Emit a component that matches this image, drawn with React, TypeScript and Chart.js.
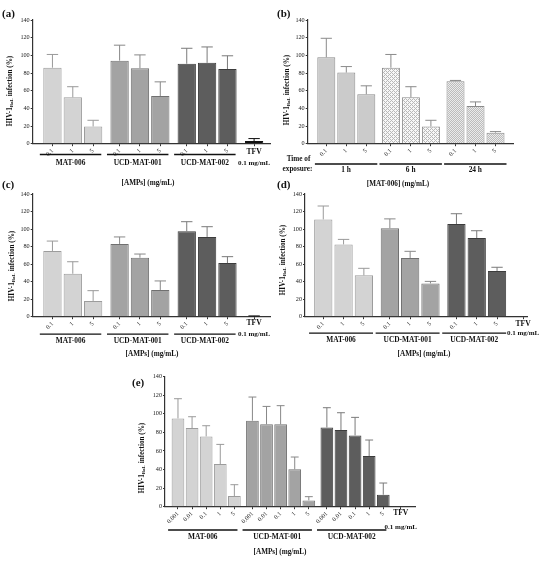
import React, { useEffect, useRef } from 'react';
import { Chart, registerables } from 'chart.js';

Chart.register(...registerables);

const SERIF = '"Liberation Serif", "DejaVu Serif", serif';
Chart.defaults.font.family = SERIF;

// categories / tick labels
const doses = ['0.1', '1', '5'];
const dosesE = ['0.001', '0.01', '0.1', '1', '5'];
const amps = ['MAT-006', 'UCD-MAT-001', 'UCD-MAT-002'];
const exposures = ['1 h', '6 h', '24 h'];

// (a) HIV-1 infection, AMPs
const aMean = [[86, 52.5, 19.5], [94, 85.5, 54], [90.5, 91.5, 84.5]];
const aSd = [[15, 12, 7], [17.5, 15, 16], [17.5, 18, 15]];
const aTfv = [3, 2.8];

// (b) MAT-006 by time of exposure
const bMean = [[97.8, 80.5, 56], [86, 52.5, 19.5], [70.8, 42.6, 12.5]];
const bSd = [[21.5, 6.8, 9.5], [15, 12, 7], [0.8, 4.7, 1.2]];

// (c)
const cMean = [[75, 49, 18], [83, 67.3, 30.5], [97.4, 91, 61.2]];
const cSd = [[11.3, 13.7, 11.7], [8, 4.2, 10.3], [11, 11.7, 7.3]];
const cTfv = [0.5, 0.4];

// (d)
const dMean = [[111, 82.5, 47.2], [101, 67, 38], [105.7, 89.8, 52.2]];
const dSd = [[15.3, 5.7, 8], [10.6, 7.6, 2.3], [11.8, 8.3, 4.2]];
const dTfv = [0, 0];

// (e)
const eMean = [[95.1, 84.7, 75.7, 45.9, 11.5], [92.6, 88.7, 88.7, 40.2, 6.8], [85.3, 82.6, 76.8, 54.6, 12.9]];
const eSd = [[21.2, 12.2, 11.5, 21.2, 12.2], [25.5, 19.3, 20.1, 13.3, 4], [21.3, 18.6, 19.4, 17.2, 12.6]];
const eTfv = [0, 0];

const AXIS = '#333';
const ampFills = ['#d3d3d3', '#a3a3a3', '#5d5d5d'];
const ampBorders = ['#9c9c9c', '#707070', '#3c3c3c'];
const ampErr = ['#9a9a9a', '#888888', '#7a7a7a'];

type Panel = {
  letter: string; letterX: number; letterY: number;
  left: number; top: number; w: number; h: number;
  x0: number; x1: number; yTop: number; yBot: number; ppu: number;
  groups: string[]; doses: string[]; mean: number[][]; sd: number[][]; tfv?: number[];
  groupStep: number; lead: number; tfvStep: number;
  fills: string[]; borders: string[]; errs: string[];
  yTitleX: number; yTitleY: number;
  xTitle: string; xTitleX: number; xTitleY: number;
  lineDy: number; labelDy: number; tfvDy: number; mgDy: number;
  lineL: number; lineR: number;
  exposure?: boolean;
};

const panels: Panel[] = [
  {
    letter: '(a)', letterX: 2, letterY: 14, left: 0, top: 0, w: 275, h: 192,
    x0: 32.7, x1: 270, yTop: 20, yBot: 143.7, ppu: 20.35,
    groups: amps, doses, mean: aMean, sd: aSd, tfv: aTfv,
    groupStep: 3.3, lead: 0.97, tfvStep: 1.31,
    fills: ampFills, borders: ampBorders, errs: ampErr,
    yTitleX: 10, yTitleY: 91, xTitle: '[AMPs] (mg/mL)', xTitleX: 148, xTitleY: 183,
    lineDy: 10.8, labelDy: 19.3, tfvDy: 8.5, mgDy: 19.3, lineL: 0.62, lineR: 0.4,
  },
  {
    letter: '(b)', letterX: 277, letterY: 14, left: 275, top: 0, w: 275, h: 192,
    x0: 307.7, x1: 513, yTop: 20, yBot: 143.7, ppu: 20,
    groups: exposures, doses, mean: bMean, sd: bSd,
    groupStep: 3.23, lead: 0.93, tfvStep: 0,
    fills: ['#cbcbcb', 'pattern:light', 'pattern:dense'], borders: ['#8a8a8a', '#8a8a8a', '#8a8a8a'],
    errs: ['#8a8a8a', '#8a8a8a', '#8a8a8a'],
    yTitleX: 286.7, yTitleY: 90, xTitle: '[MAT-006] (mg/mL)', xTitleX: 398, xTitleY: 184,
    lineDy: 20.3, labelDy: 26.5, tfvDy: 0, mgDy: 0, lineL: 0.57, lineR: 0.55, exposure: true,
  },
  {
    letter: '(c)', letterX: 2, letterY: 185, left: 0, top: 176, w: 275, h: 184,
    x0: 32.7, x1: 270, yTop: 194, yBot: 316.7, ppu: 20.35,
    groups: amps, doses, mean: cMean, sd: cSd, tfv: cTfv,
    groupStep: 3.3, lead: 0.97, tfvStep: 1.31,
    fills: ampFills, borders: ampBorders, errs: ampErr,
    yTitleX: 11.7, yTitleY: 266, xTitle: '[AMPs] (mg/mL)', xTitleX: 152, xTitleY: 354,
    lineDy: 17.4, labelDy: 24, tfvDy: 6.5, mgDy: 17.3, lineL: 0.62, lineR: 0.4,
  },
  {
    letter: '(d)', letterX: 277, letterY: 185, left: 275, top: 176, w: 275, h: 184,
    x0: 305, x1: 527, yTop: 194, yBot: 316.7, ppu: 20.3,
    groups: amps, doses, mean: dMean, sd: dSd, tfv: dTfv,
    groupStep: 3.28, lead: 0.9, tfvStep: 1.28,
    fills: ampFills, borders: ampBorders, errs: ampErr,
    yTitleX: 283, yTitleY: 260, xTitle: '[AMPs] (mg/mL)', xTitleX: 424, xTitleY: 354,
    lineDy: 16.5, labelDy: 23.5, tfvDy: 7.3, mgDy: 16.5, lineL: 0.7, lineR: 0.45,
  },
  {
    letter: '(e)', letterX: 132, letterY: 383, left: 100, top: 360, w: 350, h: 204,
    x0: 165, x1: 415, yTop: 376.7, yBot: 506.7, ppu: 14.1,
    groups: amps, doses: dosesE, mean: eMean, sd: eSd, tfv: eTfv,
    groupStep: 5.28, lead: 0.92, tfvStep: 1.24,
    fills: ampFills, borders: ampBorders, errs: ampErr,
    yTitleX: 141.7, yTitleY: 458, xTitle: '[AMPs] (mg/mL)', xTitleX: 280, xTitleY: 552,
    lineDy: 23.3, labelDy: 30.5, tfvDy: 6.5, mgDy: 20.5, lineL: 0.7, lineR: 0.22,
  },
];

function makePattern(ctx: CanvasRenderingContext2D, dense: boolean) {
  const c = document.createElement('canvas');
  c.width = 4;
  c.height = 4;
  const g = c.getContext('2d')!;
  g.fillStyle = dense ? '#ebebeb' : '#f7f7f7';
  g.fillRect(0, 0, 4, 4);
  g.fillStyle = dense ? '#bcbcbc' : '#b8b8b8';
  const dots = dense
    ? [[0, 0], [2, 0], [1, 1], [3, 1], [0, 2], [2, 2], [1, 3], [3, 3]]
    : [[0, 0], [1, 1], [2, 2], [3, 3], [3, 1], [1, 3]];
  dots.forEach(([x, y]) => g.fillRect(x, y, 1, 1));
  return ctx.createPattern(c, 'repeat');
}

function text(ctx: CanvasRenderingContext2D, s: string, x: number, y: number, size: number, align: CanvasTextAlign = 'center') {
  ctx.font = `bold ${size}px ${SERIF}`;
  ctx.textAlign = align;
  ctx.textBaseline = 'middle';
  ctx.fillStyle = '#111';
  ctx.fillText(s, x, y);
}

function PanelChart({ p }: { p: Panel }) {
  const ref = useRef<HTMLCanvasElement>(null);

  useEffect(() => {
    const canvas = ref.current;
    if (!canvas) return;
    const ctx = canvas.getContext('2d');
    if (!ctx) return;

    const xs: number[] = [];
    const ys: number[] = [];
    const sds: number[] = [];
    const labels: string[] = [];
    const bg: any[] = [];
    const bd: string[] = [];
    const ec: string[] = [];
    p.groups.forEach((_g, gi) => {
      p.doses.forEach((d, di) => {
        xs.push(gi * p.groupStep + di);
        ys.push(p.mean[gi][di]);
        sds.push(p.sd[gi][di]);
        labels.push(d);
        const f = p.fills[gi];
        bg.push(f.startsWith('pattern') ? makePattern(ctx, f === 'pattern:dense') : f);
        bd.push(p.borders[gi]);
        ec.push(p.errs[gi]);
      });
    });
    let tfvX: number | null = null;
    if (p.tfv) {
      tfvX = xs[xs.length - 1] + p.tfvStep;
      xs.push(tfvX);
      ys.push(p.tfv[0]);
      sds.push(p.tfv[1]);
      labels.push('');
      bg.push('#111');
      bd.push('#111');
      ec.push('#111');
    }

    // x range in bar units so the axis spans x0..x1 at the measured pitch
    const xMin = -p.lead;
    const xMax = xMin + (p.x1 - p.x0) / p.ppu;

    const padTop = p.yTop - p.top;
    const padRight = p.left + p.w - p.x1;
    const yW = p.x0 - p.left;
    const xH = p.top + p.h - p.yBot;

    const decor = {
      id: 'decor',
      afterDatasetsDraw(chart: any) {
        const c = chart.ctx as CanvasRenderingContext2D;
        const xS = chart.scales.x;
        const yS = chart.scales.y;
        const meta = chart.getDatasetMeta(0);
        const pitch = xS.getPixelForValue(1) - xS.getPixelForValue(0);
        c.save();
        meta.data.forEach((el: any, i: number) => {
          if (!(sds[i] > 0)) return;
          const yT = yS.getPixelForValue(ys[i]);
          const yC = yS.getPixelForValue(ys[i] + sds[i]);
          c.strokeStyle = ec[i];
          c.lineWidth = 1;
          c.beginPath();
          c.moveTo(el.x, yT);
          c.lineTo(el.x, yC);
          c.moveTo(el.x - pitch * 0.28, yC);
          c.lineTo(el.x + pitch * 0.28, yC);
          c.stroke();
        });
        c.restore();
      },
      afterDraw(chart: any) {
        const c = chart.ctx as CanvasRenderingContext2D;
        const xS = chart.scales.x;
        const L = (v: number) => v - p.left;
        const T = (v: number) => v - p.top;
        const y0 = T(p.yBot);
        c.save();
        text(c, p.letter, L(p.letterX), T(p.letterY), 11, 'left');

        // y title with subscript
        c.save();
        c.translate(L(p.yTitleX), T(p.yTitleY));
        c.rotate(-Math.PI / 2);
        const parts: [string, number, number][] = [['HIV-1', 7.2, 0], ['BaL', 5, 2], [' infection (%)', 7.2, 0]];
        let total = 0;
        parts.forEach(([s, sz]) => {
          c.font = `bold ${sz}px ${SERIF}`;
          total += c.measureText(s).width;
        });
        let cx = -total / 2;
        parts.forEach(([s, sz, dy]) => {
          c.font = `bold ${sz}px ${SERIF}`;
          c.textAlign = 'left';
          c.textBaseline = 'middle';
          c.fillStyle = '#111';
          c.fillText(s, cx, dy);
          cx += c.measureText(s).width;
        });
        c.restore();

        // group underlines and names
        c.strokeStyle = '#111';
        c.lineWidth = 1.3;
        p.groups.forEach((g, gi) => {
          const first = gi * p.groupStep;
          const last = first + p.doses.length - 1;
          const a = xS.getPixelForValue(first - p.lineL);
          const b = xS.getPixelForValue(last + p.lineR);
          c.beginPath();
          c.moveTo(a, y0 + p.lineDy);
          c.lineTo(b, y0 + p.lineDy);
          c.stroke();
          text(c, g, (a + b) / 2, y0 + p.labelDy, 7.4);
        });

        if (tfvX !== null) {
          const tx = xS.getPixelForValue(tfvX);
          text(c, 'TFV', tx, y0 + p.tfvDy, 7.6);
          text(c, '0.1 mg/mL', tx, y0 + p.mgDy, 7);
        }

        if (p.exposure) {
          text(c, 'Time of', L(298.5), T(159), 7.2);
          text(c, 'exposure:', L(297.5), T(169), 7.2);
        }

        text(c, p.xTitle, L(p.xTitleX), T(p.xTitleY), 7.2);
        c.restore();
      },
    };

    const chart = new Chart(ctx, {
      type: 'bar',
      data: {
        datasets: [{
          data: xs.map((x, i) => ({ x, y: ys[i] })) as any,
          backgroundColor: bg,
          borderColor: bd,
          borderWidth: 1,
          categoryPercentage: 1,
          barPercentage: 0.9,
        }],
      },
      options: {
        responsive: false,
        animation: false,
        layout: { padding: { top: padTop, right: padRight, left: 0, bottom: 0 } },
        plugins: { legend: { display: false }, tooltip: { enabled: false } },
        scales: {
          x: {
            type: 'linear',
            min: xMin,
            max: xMax,
            offset: false,
            bounds: 'data',
            afterBuildTicks: (s: any) => { s.ticks = xs.map((v) => ({ value: v })); },
            afterFit: (s: any) => { s.height = xH; },
            grid: { drawOnChartArea: false, offset: false, tickLength: 2.5, color: AXIS, lineWidth: 1 },
            border: { color: AXIS, width: 1.2 },
            ticks: {
              autoSkip: false, minRotation: 45, maxRotation: 45, padding: 1, color: '#222',
              font: { size: 6.2 },
              callback: (_v: any, i: number) => labels[i],
            },
          },
          y: {
            min: 0,
            max: 140,
            afterFit: (s: any) => { s.width = yW; },
            grid: { drawOnChartArea: false, tickLength: 2, color: AXIS, lineWidth: 1 },
            border: { color: AXIS, width: 1.2 },
            ticks: { stepSize: 20, padding: 1, color: '#222', font: { size: 6.2 } },
          },
        },
      } as any,
      plugins: [decor],
    });

    return () => chart.destroy();
  }, [p]);

  return (
    <canvas
      ref={ref}
      width={p.w}
      height={p.h}
      style={{ position: 'absolute', left: p.left, top: p.top, width: p.w, height: p.h }}
    />
  );
}

export default function App() {
  return (
    <div style={{ position: 'absolute', left: 0, top: 0, width: 550, height: 564, background: '#fff', overflow: 'hidden' }}>
      {panels.map((p) => <PanelChart key={p.letter} p={p} />)}
    </div>
  );
}
